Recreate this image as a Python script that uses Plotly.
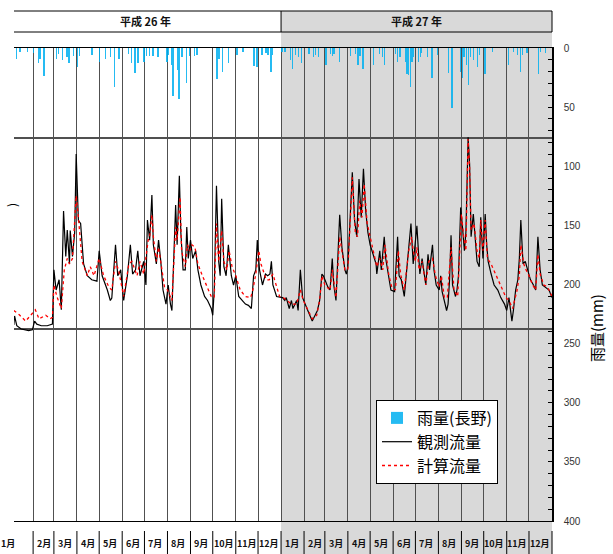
import pandas as pd
import plotly.graph_objects as go

# ---------------- data (days counted from 2014-01-01) ----------------
obs_day = [5, 6, 9, 15, 25, 30, 33, 36, 42, 50, 57, 59, 62, 66, 69, 72, 75, 77, 80, 81,
           84, 87, 89, 92, 95, 99, 104, 110, 117, 120, 124, 131, 135, 137, 142, 145, 149,
           153, 158, 162, 165, 169, 172, 175, 180, 183, 185, 188, 191, 193, 197, 200, 203,
           206, 210, 213, 216, 218, 223, 225, 228, 230, 233, 236, 238, 240, 243, 246, 250,
           253, 257, 262, 266, 271, 273, 275, 278, 281, 283, 285, 288, 291, 294, 298, 301,
           304, 308, 313, 317, 321, 325, 328, 331, 333, 336, 340, 344, 347, 350, 352, 354,
           359, 364, 367, 370, 372, 376, 379, 381, 386, 388, 391, 394, 397, 401, 407, 410,
           414, 417, 420, 422, 425, 428, 431, 434, 436, 439, 444, 447, 451, 453, 455, 461,
           464, 467, 470, 473, 476, 479, 482, 485, 489, 493, 494, 498, 500, 504, 506, 510,
           513, 518, 522, 524, 527, 531, 535, 538, 540, 543, 545, 548, 550, 552, 555, 558,
           560, 563, 565, 569, 571, 574, 578, 580, 582, 586, 588, 590, 592, 594, 596, 600,
           602, 604, 607, 609, 612, 614, 617, 619, 621, 624, 626, 629, 632, 634, 637, 640,
           642, 644, 648, 652, 657, 661, 666, 669, 672, 676, 678, 681, 684, 686, 688, 691,
           694, 697, 701, 705, 708, 711, 714, 717, 721, 726, 730]
obs_flow = [105, 117, 104, 100, 98, 99, 110, 106, 104, 104, 106, 204, 160, 181, 126, 415, 240, 330, 219, 328,
            240, 320, 824, 369, 357, 219, 190, 181, 178, 257, 190, 160, 141, 145, 276, 190, 204,
            141, 190, 276, 194, 204, 257, 190, 226, 170, 372, 292, 503, 276, 219, 292, 226,
            160, 135, 170, 135, 125, 446, 276, 635, 320, 204, 204, 342, 234, 292, 234, 257,
            204, 170, 148, 141, 128, 118, 160, 563, 226, 190, 480, 212, 190, 276, 190, 170,
            190, 148, 141, 135, 133, 128, 190, 204, 292, 204, 170, 194, 190, 194, 226, 170,
            148, 146, 146, 141, 146, 128, 141, 128, 141, 125, 204, 146, 135, 125, 110, 117,
            125, 141, 194, 190, 178, 166, 160, 234, 170, 141, 396, 268, 204, 194, 212, 661,
            372, 304, 610, 384, 689, 416, 320, 276, 246, 219, 194, 257, 204, 304, 234, 190,
            160, 157, 304, 190, 181, 148, 219, 292, 357, 219, 268, 347, 257, 194, 234, 194,
            170, 246, 204, 276, 204, 170, 160, 190, 157, 135, 125, 135, 181, 310, 170, 148,
            160, 190, 433, 357, 257, 320, 1010, 731, 304, 400, 304, 226, 212, 384, 234, 400,
            276, 226, 194, 170, 160, 146, 135, 125, 146, 110, 125, 160, 181, 234, 372, 219,
            226, 204, 181, 170, 160, 304, 204, 170, 166, 160, 146]

calc_day = [5, 12, 21, 34, 39, 48, 54, 57, 59, 63, 69, 73, 77, 80, 84, 89, 92, 97, 104, 108,
            113, 120, 126, 133, 137, 142, 146, 153, 160, 164, 171, 175, 180, 184, 186, 188,
            191, 193, 197, 200, 203, 208, 212, 216, 218, 223, 225, 229, 231, 236, 239, 242,
            245, 249, 253, 259, 264, 271, 275, 278, 281, 285, 288, 292, 295, 299, 304, 310,
            317, 324, 327, 331, 335, 338, 345, 349, 354, 358, 363, 368, 373, 379, 386, 391,
            395, 401, 407, 413, 417, 420, 424, 431, 434, 439, 444, 451, 455, 461, 465, 468,
            471, 474, 477, 481, 486, 490, 494, 498, 502, 505, 510, 514, 519, 523, 526, 531,
            537, 541, 543, 546, 548, 551, 555, 560, 564, 569, 573, 578, 581, 585, 589, 594,
            598, 603, 608, 611, 614, 617, 619, 621, 625, 629, 632, 634, 637, 640, 643, 648,
            654, 661, 668, 672, 677, 683, 686, 688, 692, 695, 699, 704, 708, 711, 714, 719,
            724, 730]
calc_flow = [125, 119, 110, 126, 113, 118, 113, 115, 170, 148, 128, 204, 234, 219, 234, 499, 384, 226, 190, 212,
             190, 234, 190, 166, 160, 226, 204, 148, 219, 226, 190, 226, 194, 259, 292, 304,
             396, 304, 226, 268, 219, 166, 160, 146, 141, 342, 292, 490, 257, 212, 276, 257,
             276, 268, 219, 190, 170, 148, 146, 357, 226, 328, 226, 204, 257, 212, 190, 160,
             148, 146, 160, 194, 257, 219, 181, 181, 194, 170, 148, 146, 141, 135, 135, 160,
             141, 125, 113, 118, 141, 190, 170, 160, 204, 146, 304, 204, 204, 622, 320, 304,
             470, 384, 574, 357, 292, 257, 212, 234, 204, 276, 194, 166, 160, 257, 194, 160,
             257, 304, 257, 226, 268, 204, 226, 170, 226, 234, 190, 166, 190, 146, 146, 268,
             160, 148, 400, 304, 257, 988, 703, 330, 357, 257, 234, 372, 257, 372, 234, 219,
             194, 170, 146, 141, 128, 160, 190, 276, 219, 204, 190, 170, 160, 246, 194, 170,
             166, 148]

rain_day = [1, 8, 13, 23, 31, 38, 40, 45, 46, 62, 65, 70, 76, 79, 85, 90, 93, 110, 120, 128,
            135, 140, 146, 159, 163, 168, 172, 180, 183, 187, 192, 199, 211, 213, 217, 219,
            225, 227, 231, 237, 241, 248, 251, 278, 281, 286, 294, 305, 313, 328, 332, 339,
            344, 347, 351, 353,
            366, 370, 377, 380, 384, 388, 392, 402, 408, 411, 415, 425, 431, 434, 436, 443,
            458, 465, 468, 471, 475, 489, 497, 501, 504, 519, 521, 525, 532, 534, 536, 539,
            541, 543, 550, 552, 554, 562, 568, 575, 590, 595, 606, 609, 611, 614, 617, 620,
            624, 629, 632, 639, 649, 671, 678, 683, 687, 690, 696, 711, 714, 721]
rain_mm = [3, 9, 3, 3, 4, 13, 9, 24, 14, 9, 5, 10, 8, 13, 7, 16, 7, 6, 12, 9,
           8, 33, 9, 5, 13, 21, 13, 12, 7, 7, 7, 8, 12, 6, 14, 41,
           19, 43, 8, 30, 7, 7, 6, 26, 9, 20, 13, 6, 3, 15, 16, 6,
           4, 6, 20, 6,
           3, 3, 10, 18, 6, 8, 13, 5, 8, 6, 8, 14, 5, 7, 5, 12,
           7, 5, 14, 7, 18, 14, 5, 8, 14, 5, 12, 8, 12, 22, 23, 33,
           12, 8, 12, 8, 4, 8, 25, 6, 21, 51, 20, 25, 8, 14, 31, 8,
           10, 16, 6, 22, 3, 14, 3, 6, 20, 6, 4, 22, 3, 4]

month_labels = [f"{m}月" for m in range(1, 13)] * 2
year_labels = ["平成 26 年", "平成 27 年"]
rain_ticks = [0, 50, 100, 150, 200, 250, 300, 350, 400]

# ---------------- helpers ----------------
base = pd.Timestamp("2014-01-01")
def dates(days):
    return [base + pd.Timedelta(days=float(d)) for d in days]

month_starts = list(pd.date_range("2014-01-01", "2016-01-01", freq="MS"))
inner_months = month_starts[1:-1]
mid_months = [m + pd.Timedelta(days=14.5) for m in month_starts[:-1]]

# plot area pixel layout (613 x 554)
L, R, T, B = 14, 61, 48, 33
PH = 554 - T - B
def py(p):  # pixel row -> paper y
    return (554 - B - p) / PH
def px(p):  # pixel col -> paper x
    return (p - L) / (613 - L - R)

JP = "Noto Sans CJK JP"
GRID = "#505050"

fig = go.Figure()
fig.add_trace(go.Bar(
    x=dates([d + 0.5 for d in rain_day]), y=rain_mm, yaxis="y2",
    width=86400000 * 0.6, marker=dict(color="#00B0F0", line=dict(width=0)),
    opacity=0.85, name="雨量(長野)"))
fig.add_trace(go.Scatter(
    x=dates(obs_day), y=obs_flow, mode="lines",
    line=dict(color="black", width=1.2), name="観測流量"))
fig.add_trace(go.Scatter(
    x=dates(calc_day), y=calc_flow, mode="lines",
    line=dict(color="#FF0000", width=1.3, dash="dot"), name="計算流量"))

shapes = []
# grey background for 2015
shapes.append(dict(type="rect", xref="x", yref="paper", x0="2015-01-01", x1="2016-01-01",
                   y0=py(556), y1=py(11), fillcolor="#D9D9D9", line=dict(width=0), layer="below"))
# header box
for yy in (11, 32):
    shapes.append(dict(type="line", xref="paper", yref="paper", x0=0, x1=1, y0=py(yy), y1=py(yy),
                       line=dict(color="black", width=1)))
shapes.append(dict(type="line", xref="x", yref="paper", x0="2015-01-01", x1="2015-01-01",
                   y0=py(32), y1=py(11), line=dict(color="black", width=1)))
shapes.append(dict(type="line", xref="paper", yref="paper", x0=1, x1=1,
                   y0=py(32), y1=py(11), line=dict(color="black", width=1)))
# month label separators
for m in inner_months:
    shapes.append(dict(type="line", xref="x", yref="paper", x0=m, x1=m,
                       y0=py(556), y1=py(531), line=dict(color="black", width=1)))
shapes.append(dict(type="line", xref="paper", yref="paper", x0=1, x1=1,
                   y0=py(556), y1=py(531), line=dict(color="black", width=1)))

annotations = []
for lbl, x in zip(year_labels, ["2014-07-02", "2015-07-02"]):
    annotations.append(dict(text=lbl, x=x, xref="x", y=py(21.5), yref="paper",
                            xanchor="center", yanchor="middle", showarrow=False,
                            font=dict(family=JP, size=11, color="#111111", weight="bold")))
for i, (lbl, x) in enumerate(zip(month_labels, mid_months)):
    if i == 0:
        ann = dict(x=px(8), xref="paper")
    else:
        ann = dict(x=x, xref="x")
    ann.update(text=lbl, y=py(543), yref="paper", xanchor="center", yanchor="middle",
               showarrow=False, font=dict(family=JP, size=9, color="#111111", weight="bold"))
    annotations.append(ann)
annotations.append(dict(text="雨量(mm)", x=px(596), xref="paper", y=py(328), yref="paper",
                        xanchor="center", yanchor="middle", textangle=-90, showarrow=False,
                        font=dict(family=JP, size=15, color="black")))
annotations.append(dict(text=")", x=px(11), xref="paper", y=py(205), yref="paper",
                        xanchor="center", yanchor="middle", textangle=-90, showarrow=False,
                        borderpad=0, font=dict(family=JP, size=12, color="black")))

fig.update_layout(
    width=613, height=554,
    margin=dict(l=L, r=R, t=T, b=B, pad=0),
    paper_bgcolor="white", plot_bgcolor="rgba(0,0,0,0)",
    showlegend=True, bargap=0,
    font=dict(family="Liberation Sans", size=10, color="#333333"),
    xaxis=dict(type="date", range=[base + pd.Timedelta(days=5.25), "2016-01-01"],
               tickvals=inner_months, showticklabels=False, ticks="",
               showgrid=True, gridcolor=GRID, gridwidth=1.4,
               showline=True, linecolor="black", linewidth=1, mirror=True,
               zeroline=False),
    yaxis=dict(type="log", range=[0.9948, 3.4712], tickvals=[100, 1000],
               showticklabels=False, ticks="", showgrid=True, gridcolor=GRID,
               gridwidth=1.6, showline=False, zeroline=False),
    yaxis2=dict(overlaying="y", side="right", range=[400, 0], tickvals=rain_ticks,
                ticks="inside", ticklen=4, tickcolor="black", showgrid=False,
                showline=True, linecolor="black", linewidth=1.5, zeroline=False,
                minor=dict(dtick=10, ticks="inside", ticklen=4, tickcolor="black", showgrid=False),
                ticklabelstandoff=8,
                tickfont=dict(family="Liberation Sans", size=10, color="#333333")),
    legend=dict(x=px(376), y=py(400), xanchor="left", yanchor="top", bgcolor="white",
                bordercolor="black", borderwidth=1, tracegroupgap=0, itemwidth=30,
                font=dict(family=JP, size=16, color="black")),
    shapes=shapes, annotations=annotations,
)

fig.write_html("out.html", config={"displayModeBar": False},
               post_script="document.body.style.margin='0px';")
